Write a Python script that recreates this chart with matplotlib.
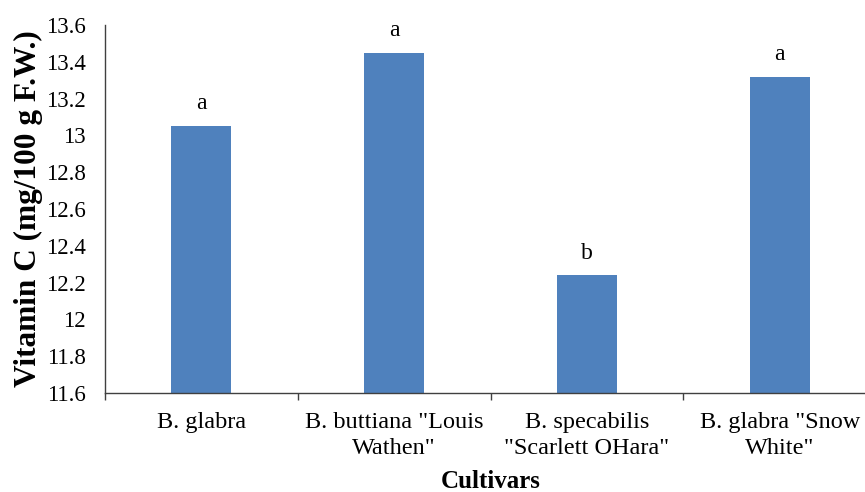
import matplotlib
matplotlib.use('Agg')
import matplotlib.pyplot as plt
import numpy as np

plt.rcParams['font.family'] = ['Liberation Serif', 'DejaVu Serif']

# data
cultivars = ['B. glabra', 'B. buttiana "Louis\nWathen"',
             'B. specabilis\n"Scarlett OHara"', 'B. glabra "Snow\nWhite"']
vit_c = [13.05, 13.45, 12.24, 13.32]
letters = ['a', 'a', 'b', 'a']

BAR_COLOR = '#4F81BD'
AXIS_COLOR = '#404040'

fig = plt.figure(figsize=(8.65, 4.92), dpi=100)
# axes run slightly past the right edge, as in the reference crop
ax = fig.add_axes([105/865, 1-393/492, 771/865, 368/492])

x = np.arange(len(cultivars))
ax.bar(x, vit_c, width=0.31, color=BAR_COLOR, zorder=2)

for xi, v, l in zip(x, vit_c, letters):
    ax.annotate(l, xy=(xi, v), xytext=(0, 16), textcoords='offset points',
                ha='center', va='center', fontsize=17)

ax.set_xlim(-0.5, len(cultivars)-0.5)
ax.set_ylim(11.6, 13.6)
ax.set_yticks(np.arange(11.6, 13.61, 0.2))
ax.set_yticklabels(['%g' % round(t, 1) for t in np.arange(11.6, 13.61, 0.2)])

ax.set_xticks(x)
ax.set_xticklabels(cultivars, fontsize=17.5, linespacing=1.3)
ax.set_xticks(np.arange(-0.5, len(cultivars), 1), minor=True)
ax.tick_params(axis='x', which='major', length=0, pad=14)
ax.tick_params(axis='x', which='minor', length=5, width=1, color=AXIS_COLOR,
               direction='out')
ax.tick_params(axis='y', length=0, pad=14, labelsize=16.5)

for s in ['top', 'right']:
    ax.spines[s].set_visible(False)
for s in ['left', 'bottom']:
    ax.spines[s].set_color(AXIS_COLOR)
    ax.spines[s].set_linewidth(1.0)

ax.set_xlabel('Cultivars', fontsize=18, weight='bold', labelpad=8)
ax.set_ylabel('Vitamin C (mg/100 g F.W.)', fontsize=22.5, weight='bold',
              labelpad=2)

fig.savefig('out.png', dpi=100)
